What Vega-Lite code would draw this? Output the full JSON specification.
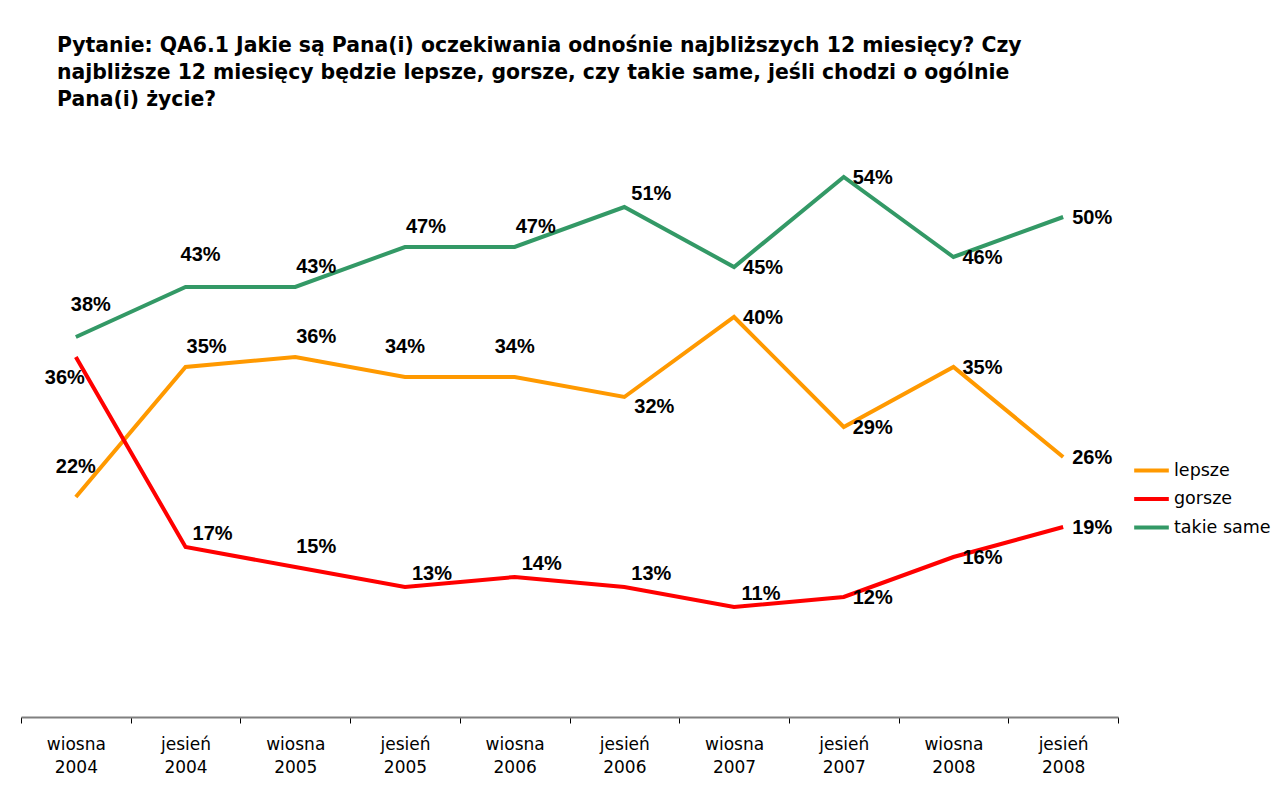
{
  "$schema": "https://vega.github.io/schema/vega-lite/v6.json",
  "autosize": "none",
  "width": 1097,
  "height": 600,
  "padding": {"left": 21, "top": 117, "right": 153, "bottom": 72},
  "background": "white",
  "config": {"view": {"stroke": null}},
  "title": {
    "text": ["Pytanie: QA6.1 Jakie są Pana(i) oczekiwania odnośnie najbliższych 12 miesięcy? Czy", "najbliższe 12 miesięcy będzie lepsze, gorsze, czy takie same, jeśli chodzi o ogólnie", "Pana(i) życie?"],
    "anchor": "start",
    "frame": "group",
    "dx": 36,
    "offset": 7,
    "font": "DejaVu Sans",
    "fontSize": 20.4,
    "fontWeight": "bold",
    "lineHeight": 27,
    "color": "black"
  },
  "data": {
    "values": [
      {"period": "wiosna 2004", "series": "lepsze", "value": 22},
      {"period": "jesień 2004", "series": "lepsze", "value": 35},
      {"period": "wiosna 2005", "series": "lepsze", "value": 36},
      {"period": "jesień 2005", "series": "lepsze", "value": 34},
      {"period": "wiosna 2006", "series": "lepsze", "value": 34},
      {"period": "jesień 2006", "series": "lepsze", "value": 32},
      {"period": "wiosna 2007", "series": "lepsze", "value": 40},
      {"period": "jesień 2007", "series": "lepsze", "value": 29},
      {"period": "wiosna 2008", "series": "lepsze", "value": 35},
      {"period": "jesień 2008", "series": "lepsze", "value": 26},
      {"period": "wiosna 2004", "series": "gorsze", "value": 36},
      {"period": "jesień 2004", "series": "gorsze", "value": 17},
      {"period": "wiosna 2005", "series": "gorsze", "value": 15},
      {"period": "jesień 2005", "series": "gorsze", "value": 13},
      {"period": "wiosna 2006", "series": "gorsze", "value": 14},
      {"period": "jesień 2006", "series": "gorsze", "value": 13},
      {"period": "wiosna 2007", "series": "gorsze", "value": 11},
      {"period": "jesień 2007", "series": "gorsze", "value": 12},
      {"period": "wiosna 2008", "series": "gorsze", "value": 16},
      {"period": "jesień 2008", "series": "gorsze", "value": 19},
      {"period": "wiosna 2004", "series": "takie same", "value": 38},
      {"period": "jesień 2004", "series": "takie same", "value": 43},
      {"period": "wiosna 2005", "series": "takie same", "value": 43},
      {"period": "jesień 2005", "series": "takie same", "value": 47},
      {"period": "wiosna 2006", "series": "takie same", "value": 47},
      {"period": "jesień 2006", "series": "takie same", "value": 51},
      {"period": "wiosna 2007", "series": "takie same", "value": 45},
      {"period": "jesień 2007", "series": "takie same", "value": 54},
      {"period": "wiosna 2008", "series": "takie same", "value": 46},
      {"period": "jesień 2008", "series": "takie same", "value": 50}
    ]
  },
  "transform": [
    {"calculate": "datum.value + '%'", "as": "label"},
    {"calculate": "datum.series + '|' + datum.period", "as": "key"}
  ],
  "encoding": {
    "x": {
      "field": "period",
      "type": "nominal",
      "sort": null,
      "scale": {"type": "band", "paddingInner": 0, "paddingOuter": 0},
      "axis": {
        "title": null,
        "labelAngle": 0,
        "labelExpr": "split(datum.label, ' ')",
        "labelFont": "DejaVu Sans",
        "labelFontSize": 17,
        "labelColor": "black",
        "labelLineHeight": 23,
        "labelPadding": 13,
        "labelBaseline": "top",
        "tickBand": "extent",
        "tickColor": "black",
        "tickSize": 6,
        "tickWidth": 1,
        "domainColor": "#808080",
        "domainWidth": 2
      }
    },
    "y": {
      "field": "value",
      "type": "quantitative",
      "scale": {"domain": [0, 60], "nice": false},
      "axis": null
    }
  },
  "layer": [
    {
      "mark": {"type": "line", "strokeWidth": 4},
      "encoding": {
        "color": {
          "field": "series",
          "type": "nominal",
          "scale": {"domain": ["lepsze", "gorsze", "takie same"], "range": ["#FF9900", "#FF0000", "#339966"]},
          "legend": {
            "title": null,
            "orient": "none",
            "legendX": 1111,
            "legendY": 334,
            "symbolType": "stroke",
            "symbolSize": 1200,
            "symbolStrokeWidth": 4,
            "labelFont": "DejaVu Sans",
            "labelFontSize": 17.5,
            "labelColor": "black",
            "rowPadding": 0.5,
            "labelOffset": 3
          }
        }
      }
    },
    {
      "transform": [{"filter": "indexof(['takie same|wiosna 2007','takie same|jesień 2007','takie same|wiosna 2008','takie same|jesień 2008','lepsze|wiosna 2007','lepsze|jesień 2007','lepsze|wiosna 2008','lepsze|jesień 2008','gorsze|jesień 2007','gorsze|wiosna 2008','gorsze|jesień 2008'], datum.key) >= 0"}],
      "mark": {"type": "text", "dx": 29, "dy": 1, "font": "Liberation Sans", "fontWeight": "bold", "fontSize": 20, "color": "black"},
      "encoding": {"text": {"field": "label", "type": "nominal"}}
    },
    {
      "transform": [{"filter": "datum.key == 'lepsze|jesień 2006'"}],
      "mark": {"type": "text", "dx": 30, "dy": 10, "font": "Liberation Sans", "fontWeight": "bold", "fontSize": 20, "color": "black"},
      "encoding": {"text": {"field": "label", "type": "nominal"}}
    },
    {
      "transform": [{"filter": "indexof(['takie same|jesień 2006','gorsze|jesień 2005','gorsze|wiosna 2006','gorsze|jesień 2006','gorsze|wiosna 2007','gorsze|jesień 2004'], datum.key) >= 0"}],
      "mark": {"type": "text", "dx": 27, "dy": -13, "font": "Liberation Sans", "fontWeight": "bold", "fontSize": 20, "color": "black"},
      "encoding": {"text": {"field": "label", "type": "nominal"}}
    },
    {
      "transform": [{"filter": "indexof(['takie same|wiosna 2005','takie same|wiosna 2006','takie same|jesień 2005','lepsze|jesień 2004','lepsze|wiosna 2005','gorsze|wiosna 2005'], datum.key) >= 0"}],
      "mark": {"type": "text", "dx": 21, "dy": -20, "font": "Liberation Sans", "fontWeight": "bold", "fontSize": 20, "color": "black"},
      "encoding": {"text": {"field": "label", "type": "nominal"}}
    },
    {
      "transform": [{"filter": "indexof(['lepsze|jesień 2005','lepsze|wiosna 2006','lepsze|wiosna 2004'], datum.key) >= 0"}],
      "mark": {"type": "text", "dx": 0, "dy": -30, "font": "Liberation Sans", "fontWeight": "bold", "fontSize": 20, "color": "black"},
      "encoding": {"text": {"field": "label", "type": "nominal"}}
    },
    {
      "transform": [{"filter": "datum.key == 'takie same|wiosna 2004' || datum.key == 'takie same|jesień 2004'"}],
      "mark": {"type": "text", "dx": 15, "dy": -32, "font": "Liberation Sans", "fontWeight": "bold", "fontSize": 20, "color": "black"},
      "encoding": {"text": {"field": "label", "type": "nominal"}}
    },
    {
      "transform": [{"filter": "datum.key == 'gorsze|wiosna 2004'"}],
      "mark": {"type": "text", "dx": -11, "dy": 21, "font": "Liberation Sans", "fontWeight": "bold", "fontSize": 20, "color": "black"},
      "encoding": {"text": {"field": "label", "type": "nominal"}}
    }
  ]
}
